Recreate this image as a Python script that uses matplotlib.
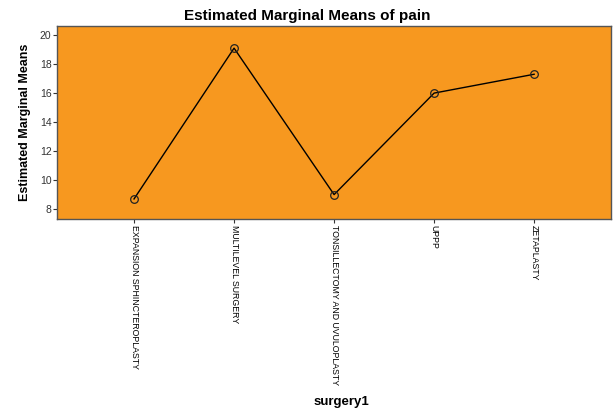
import numpy as np
import matplotlib
matplotlib.use('Agg')
import matplotlib.pyplot as plt

plt.rcParams['font.family'] = ['Liberation Sans', 'DejaVu Sans']

categories = ['EXPANSION SPHINCTEROPLASTY', 'MULTILEVEL SURGERY',
              'TONSILLECTOMY AND UVULOPLASTY', 'UPPP', 'ZETAPLASTY']
means = [8.7, 19.1, 9.0, 16.0, 17.3]
yticks = [8, 10, 12, 14, 16, 18, 20]

fig = plt.figure(figsize=(6.13, 4.08), dpi=100)
ax = fig.add_axes([0.093, 0.463, 0.904, 0.473])
ax.set_facecolor('#F7981F')

x = np.arange(len(categories))
ax.plot(x, means, color='black', linewidth=1.0, marker='o', markersize=5.5,
        markerfacecolor='none', markeredgecolor='#222222', markeredgewidth=0.9)

ax.set_xlim(-0.77, 4.77)
ax.set_ylim(7.31, 20.62)
ax.set_yticks(yticks)
ax.set_yticklabels([str(v) for v in yticks], fontsize=7.5, color='#333333')
ax.set_xticks(x)
ax.set_xticklabels(categories, rotation=270, fontsize=6.3, va='top', ha='center')
ax.tick_params(axis='both', length=3, width=0.8, color='#333333', pad=1)

for side in ax.spines.values():
    side.set_color('#555555')
    side.set_linewidth(1.0)

# title is centred on the whole figure, not the axes
fig.text(0.502, 0.952, 'Estimated Marginal Means of pain', fontsize=11,
         fontweight='bold', ha='center')
ax.set_ylabel('Estimated Marginal Means', fontsize=9, fontweight='bold', labelpad=6)
fig.text(0.557, 0.008, 'surgery1', fontsize=9.5, fontweight='bold', ha='center')

fig.savefig('out.png', dpi=100)
